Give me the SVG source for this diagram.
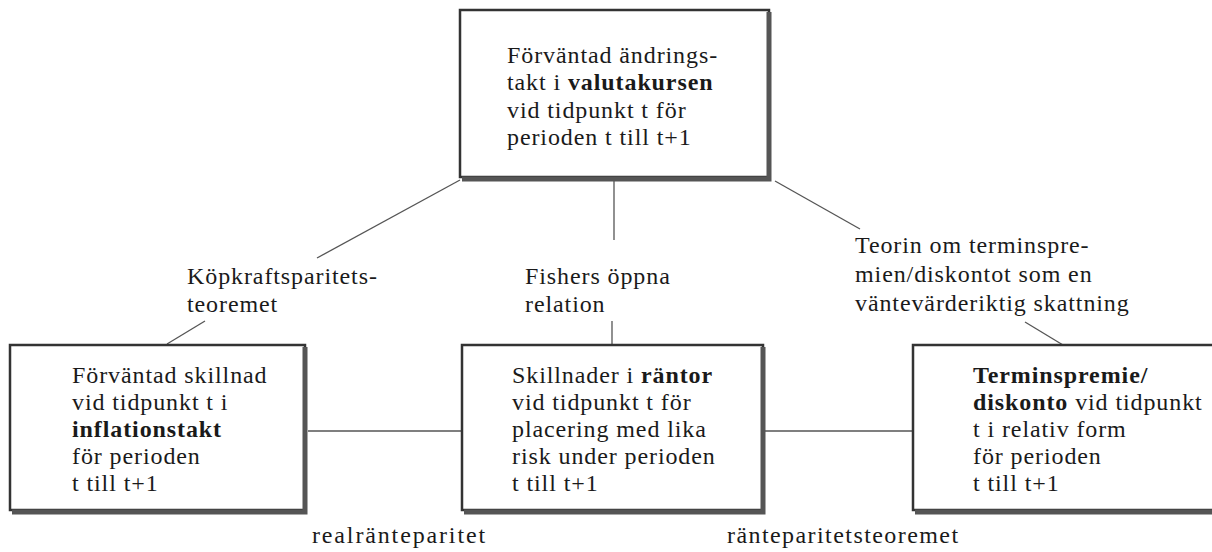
<svg xmlns="http://www.w3.org/2000/svg" width="1212" height="552" viewBox="0 0 1212 552">
<style>
text{font-family:"Liberation Serif","DejaVu Serif",serif;font-size:24px;letter-spacing:0.9px;fill:#1a1a1a}
.b{font-weight:bold}
.box{fill:#fff;stroke:#333;stroke-width:2.5}
.sh{fill:none;stroke:#555;stroke-width:5}
.c{stroke:#555;stroke-width:1.3;fill:none}
</style>
<rect width="1212" height="552" fill="#fff"/>
<g id="connectors">
<line class="c" x1="460" y1="180" x2="317" y2="258"/>
<line class="c" x1="205" y1="321" x2="167" y2="344"/>
<line class="c" x1="614" y1="180" x2="614" y2="240"/>
<line class="c" x1="612" y1="321" x2="612" y2="345"/>
<line class="c" x1="775" y1="181" x2="860" y2="229"/>
<line class="c" x1="1025" y1="322" x2="1063" y2="345"/>
<line class="c" x1="308" y1="431" x2="462" y2="431"/>
<line class="c" x1="765" y1="431" x2="913" y2="431"/>
</g>
<g id="top">
<rect class="box" x="460" y="10" width="309" height="167"/>
<polyline class="sh" points="769,12 769,179 462,179"/>
<text x="507" y="63">Förväntad ändrings-</text>
<text x="507" y="90">takt i <tspan class="b">valutakursen</tspan></text>
<text x="507" y="118">vid tidpunkt t för</text>
<text x="507" y="145">perioden t till t+1</text>
</g>
<g id="left">
<rect class="box" x="10" y="345" width="295" height="165"/>
<polyline class="sh" points="305,347 305,512 12,512"/>
<text x="72" y="383">Förväntad skillnad</text>
<text x="72" y="410">vid tidpunkt t i</text>
<text x="72" y="437" class="b">inflationstakt</text>
<text x="72" y="464">för perioden</text>
<text x="72" y="491">t till t+1</text>
</g>
<g id="middle">
<rect class="box" x="462" y="345" width="301" height="165"/>
<polyline class="sh" points="763,347 763,512 464,512"/>
<text x="512" y="383">Skillnader i <tspan class="b">räntor</tspan></text>
<text x="512" y="410">vid tidpunkt t för</text>
<text x="512" y="437">placering med lika</text>
<text x="512" y="464">risk under perioden</text>
<text x="512" y="491">t till t+1</text>
</g>
<g id="right">
<rect class="box" x="913" y="345" width="310" height="165"/>
<polyline class="sh" points="915,512 1215,512"/>
<text x="973" y="383" class="b">Terminspremie/</text>
<text x="973" y="410"><tspan class="b">diskonto</tspan> vid tidpunkt</text>
<text x="973" y="437">t i relativ form</text>
<text x="973" y="464">för perioden</text>
<text x="973" y="491">t till t+1</text>
</g>
<g id="labels">
<text x="187" y="284">Köpkraftsparitets-</text>
<text x="187" y="312">teoremet</text>
<text x="525" y="284">Fishers öppna</text>
<text x="525" y="312">relation</text>
<text x="855" y="253">Teorin om terminspre-</text>
<text x="855" y="282">mien/diskontot som en</text>
<text x="855" y="311">väntevärderiktig skattning</text>
<text x="312" y="543" textLength="174" lengthAdjust="spacing">realränteparitet</text>
<text x="727" y="543" textLength="232" lengthAdjust="spacing">ränteparitetsteoremet</text>
</g>
</svg>
